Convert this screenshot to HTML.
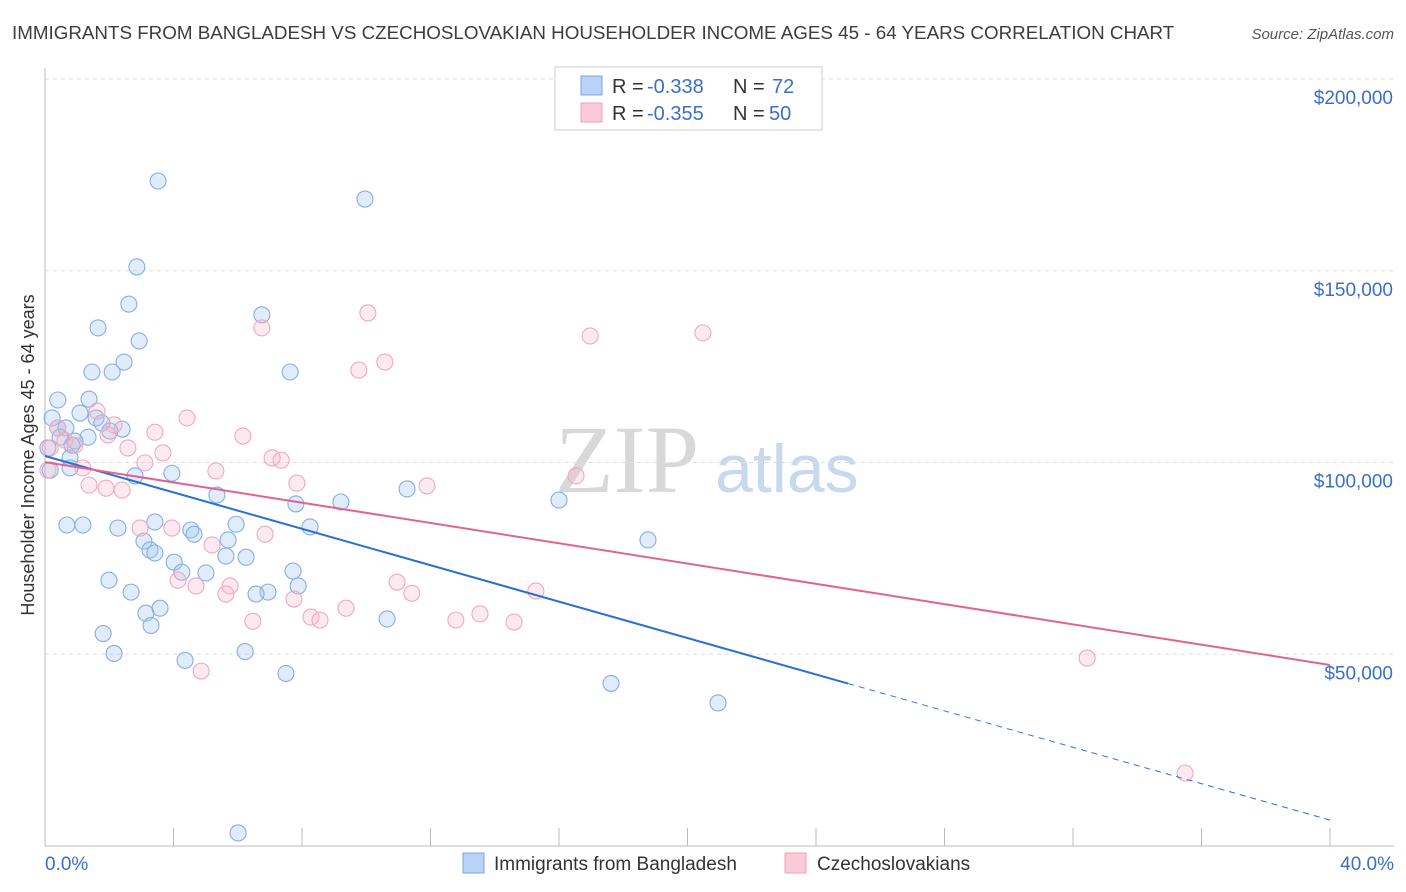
<!DOCTYPE html>
<html><head><meta charset="utf-8"><style>
body{margin:0;background:#fff;font-family:"Liberation Sans",sans-serif;}
#wrap{position:relative;width:1406px;height:892px;overflow:hidden;}
</style></head><body>
<div id="wrap">
<svg id="svg" width="1406" height="892" xmlns="http://www.w3.org/2000/svg">
<text x="12" y="39" font-size="18.8" fill="#3d3d3d">IMMIGRANTS FROM BANGLADESH VS CZECHOSLOVAKIAN HOUSEHOLDER INCOME AGES 45 - 64 YEARS CORRELATION CHART</text>
<text x="1394" y="39" font-size="15" fill="#555" font-style="italic" text-anchor="end">Source: ZipAtlas.com</text>
<text x="34" y="455" font-size="18" fill="#333" text-anchor="middle" transform="rotate(-90 34 455)">Householder Income Ages 45 - 64 years</text>
<text x="555" y="492" font-size="96" fill="#d8d8d8" font-family="Liberation Serif,serif">ZIP</text>
<text x="715" y="492" font-size="68" fill="#c8d8ee">atlas</text>
<g id="grid"></g><g id="pts"></g><g id="lines"></g>
<text x="45" y="870" font-size="19" fill="#3a6fc8">0.0%</text>
<text x="1394" y="870" font-size="19" fill="#3a6fc8" text-anchor="end">40.0%</text>
<g>
<rect x="555" y="67" width="267" height="63" fill="#fff" stroke="#ccc"/>
<rect x="581" y="76" width="21" height="19" fill="#b8d3f5" stroke="#7aa6e0"/>
<text x="612" y="93" font-size="20" fill="#333">R =</text>
<text x="647" y="93" font-size="20" fill="#3a6fc8">-0.338</text>
<text x="733" y="93" font-size="20" fill="#333">N =</text>
<text x="772" y="93" font-size="20" fill="#3a6fc8">72</text>
<rect x="581" y="103" width="21" height="19" fill="#f9cbd9" stroke="#eea0b8"/>
<text x="612" y="120" font-size="20" fill="#333">R =</text>
<text x="647" y="120" font-size="20" fill="#3a6fc8">-0.355</text>
<text x="733" y="120" font-size="20" fill="#333">N =</text>
<text x="769" y="120" font-size="20" fill="#3a6fc8">50</text>
</g>
<g>
<rect x="463" y="853" width="21" height="20" fill="#b8d3f5" stroke="#7aa6e0"/>
<text x="494" y="870" font-size="19" fill="#333">Immigrants from Bangladesh</text>
<rect x="785" y="853" width="21" height="20" fill="#f9cbd9" stroke="#eea0b8"/>
<text x="817" y="870" font-size="19" fill="#333">Czechoslovakians</text>
</g>
</svg></div>
<script>
const yTicks=[50000,100000,150000,200000];
const yTickLabels=["$50,000","$100,000","$150,000","$200,000"];
const xTicks=[0,4,8,12,16,20,24,28,32,36,40];
const blueX=[3.52,9.96,2.86,2.61,6.75,1.65,2.93,2.46,1.46,2.09,7.63,0.40,1.37,1.09,0.22,1.59,0.40,1.77,2.40,0.65,2.02,1.34,0.93,0.84,0.47,0.09,0.78,0.16,0.78,2.80,3.95,5.35,11.27,7.81,9.21,16.00,0.68,1.18,3.42,2.27,5.95,8.25,4.54,4.64,18.77,5.70,3.08,3.27,3.42,5.63,6.26,4.02,4.26,5.01,7.72,1.99,7.88,2.68,6.94,6.57,3.58,3.14,10.65,3.30,1.81,2.15,6.23,4.36,7.50,17.62,20.95,6.01];
const blueY=[173400,168700,151000,141300,138500,135100,131700,126200,123600,123600,123600,116300,116500,112900,111600,111600,109000,110300,108700,109000,108200,106600,105600,104500,106600,103800,101200,98000,98600,96500,97200,91500,93100,89200,89700,90200,83700,83700,84500,82900,83900,83200,82400,81300,79800,79800,79500,77200,76400,75600,75300,74000,71400,71200,71700,69300,67800,66200,66200,65700,62000,60700,59200,57500,55400,50200,50700,48400,45000,42400,37300,3400];
const pinkX=[0.09,0.16,0.40,0.62,0.93,1.62,2.15,2.58,3.42,4.42,6.16,3.67,3.11,1.18,5.32,7.07,7.35,1.37,1.90,2.40,7.84,11.89,16.53,6.75,10.05,10.58,9.77,16.97,20.48,2.96,3.95,6.85,5.20,4.14,4.70,5.76,5.63,10.96,11.42,7.75,9.37,8.28,8.56,6.47,12.79,13.54,14.60,15.28,4.86,32.44,35.49,1.96];
const pinkY=[98000,103800,109000,105800,104500,113400,109800,103800,107900,111600,106900,102500,99900,98600,97800,101200,100600,94100,93300,92800,94600,93900,96500,135100,139000,126200,124100,133000,133800,82900,82900,81300,78500,69300,67800,67800,65700,68800,65900,64400,62000,59700,58900,58600,58900,60500,58400,66500,45600,49000,19000,107200];
const blueTrend=[101700,6750]; const blueSolidEnd=25;
const pinkTrend=[100100,47200];
const NS="http://www.w3.org/2000/svg";
const X0=45,X1=1330,Y0=846,Y200=79;
function sx(v){return X0+(X1-X0)*v/40;}
function sy(v){return Y0-(Y0-Y200)*v/200000;}
function mk(t,a,p){const e=document.createElementNS(NS,t);for(const k in a)e.setAttribute(k,a[k]);p.appendChild(e);return e;}
const grid=document.getElementById('grid');
yTicks.forEach((v,i)=>{
 const l=mk('line',{x1:X0,x2:1394,y1:sy(v),y2:sy(v),stroke:'#ddd','stroke-dasharray':'4,4'},grid);
 
 
 const t=mk('text',{x:1393,y:sy(v)+25,'font-size':19,fill:'#3a6fc8','text-anchor':'end'},grid);
 t.textContent=yTickLabels[i];
 
 
});
const ax=mk('line',{x1:X0,x2:1394,y1:Y0,y2:Y0,stroke:'#bbb'},grid);


const ay=mk('line',{x1:X0,x2:X0,y1:68,y2:Y0,stroke:'#bbb'},grid);


xTicks.forEach(v=>{
 const l=mk('line',{x1:sx(v),x2:sx(v),y1:Y0,y2:Y0-18,stroke:'#bbb'},grid);
 
 
});
const pts=document.getElementById('pts');
blueX.forEach((v,i)=>{
 const c=mk('circle',{cx:sx(v),cy:sy(blueY[i]),r:8,fill:'rgba(160,196,240,0.32)',stroke:'#86aee2','stroke-width':1.1},pts);
 
 
});
pinkX.forEach((v,i)=>{
 const c=mk('circle',{cx:sx(v),cy:sy(pinkY[i]),r:8,fill:'rgba(245,180,200,0.28)',stroke:'#f0a8c0','stroke-width':1.1},pts);
 
 
});
const lines=document.getElementById('lines');
function ty(tr,x){return tr[0]+(tr[1]-tr[0])*x/40;}
const b1=mk('line',{x1:sx(0),y1:sy(blueTrend[0]),x2:sx(blueSolidEnd),y2:sy(ty(blueTrend,blueSolidEnd)),stroke:'#2a6fd6','stroke-width':2},lines);


const b2=mk('line',{x1:sx(blueSolidEnd),y1:sy(ty(blueTrend,blueSolidEnd)),x2:sx(40),y2:sy(blueTrend[1]),stroke:'#2a6fd6','stroke-width':1,'stroke-dasharray':'6,5'},lines);


const p1=mk('line',{x1:sx(0),y1:sy(pinkTrend[0]),x2:sx(40),y2:sy(pinkTrend[1]),stroke:'#e0648f','stroke-width':2},lines);


</script>
</body></html>
